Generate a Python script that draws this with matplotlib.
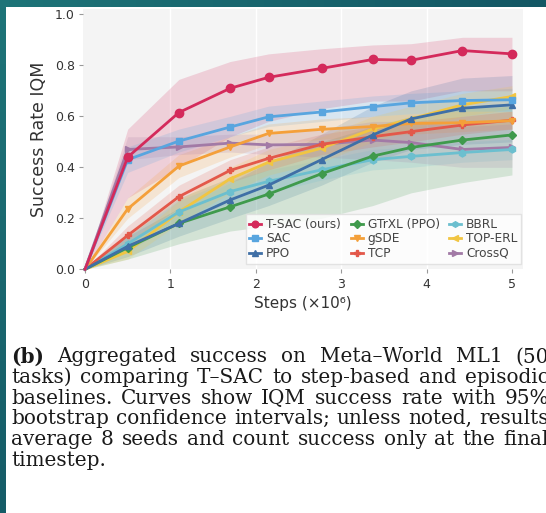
import matplotlib
matplotlib.use("Agg")
import matplotlib.pyplot as plt
import numpy as np
from matplotlib.patches import Rectangle

# ---------------- data ----------------
steps = [0, 0.5, 1.1, 1.7, 2.15, 2.77, 3.37, 3.82, 4.42, 5.0]

tsac = [0, 0.44, 0.615, 0.71, 0.753, 0.788, 0.823, 0.82, 0.858, 0.845]
tsac_lo = [0, 0.28, 0.40, 0.52, 0.58, 0.63, 0.66, 0.66, 0.70, 0.70]
tsac_hi = [0, 0.55, 0.745, 0.815, 0.845, 0.865, 0.88, 0.885, 0.91, 0.91]

sac = [0, 0.43, 0.503, 0.558, 0.598, 0.617, 0.638, 0.653, 0.662, 0.665]
sac_lo = [0, 0.38, 0.46, 0.52, 0.56, 0.58, 0.60, 0.61, 0.62, 0.62]
sac_hi = [0, 0.48, 0.55, 0.60, 0.64, 0.66, 0.68, 0.69, 0.70, 0.71]

ppo = [0, 0.09, 0.18, 0.272, 0.33, 0.43, 0.527, 0.59, 0.632, 0.645]
ppo_lo = [0, 0.05, 0.13, 0.20, 0.25, 0.33, 0.42, 0.47, 0.49, 0.50]
ppo_hi = [0, 0.13, 0.24, 0.34, 0.42, 0.53, 0.64, 0.70, 0.75, 0.76]

gtrxl = [0, 0.085, 0.18, 0.245, 0.295, 0.375, 0.444, 0.478, 0.507, 0.527]
gtrxl_lo = [0, 0.04, 0.10, 0.15, 0.17, 0.20, 0.25, 0.30, 0.34, 0.37]
gtrxl_hi = [0, 0.13, 0.28, 0.36, 0.42, 0.50, 0.56, 0.60, 0.63, 0.64]

gsde = [0, 0.237, 0.405, 0.48, 0.533, 0.549, 0.56, 0.572, 0.575, 0.583]
gsde_lo = [0, 0.20, 0.36, 0.44, 0.49, 0.51, 0.52, 0.53, 0.54, 0.55]
gsde_hi = [0, 0.28, 0.45, 0.52, 0.57, 0.59, 0.60, 0.61, 0.62, 0.62]

tcp = [0, 0.133, 0.285, 0.388, 0.435, 0.49, 0.52, 0.54, 0.566, 0.585]
tcp_lo = [0, 0.10, 0.24, 0.34, 0.39, 0.45, 0.48, 0.50, 0.53, 0.55]
tcp_hi = [0, 0.17, 0.33, 0.43, 0.48, 0.53, 0.56, 0.58, 0.60, 0.62]

bbrl = [0, 0.10, 0.225, 0.305, 0.345, 0.39, 0.43, 0.443, 0.458, 0.47]
bbrl_lo = [0, 0.07, 0.19, 0.26, 0.30, 0.35, 0.39, 0.40, 0.42, 0.43]
bbrl_hi = [0, 0.13, 0.27, 0.35, 0.39, 0.43, 0.47, 0.48, 0.50, 0.51]

toperl = [0, 0.07, 0.225, 0.355, 0.42, 0.475, 0.55, 0.59, 0.645, 0.678]
toperl_lo = [0, 0.04, 0.18, 0.30, 0.37, 0.42, 0.50, 0.55, 0.60, 0.63]
toperl_hi = [0, 0.10, 0.27, 0.40, 0.47, 0.52, 0.60, 0.64, 0.69, 0.72]

crossq = [0, 0.47, 0.48, 0.495, 0.488, 0.49, 0.507, 0.497, 0.47, 0.478]
crossq_lo = [0, 0.43, 0.45, 0.46, 0.45, 0.44, 0.43, 0.42, 0.40, 0.40]
crossq_hi = [0, 0.52, 0.52, 0.53, 0.53, 0.55, 0.58, 0.58, 0.56, 0.57]

labels = ["T-SAC (ours)", "SAC", "PPO", "GTrXL (PPO)", "gSDE", "TCP",
          "BBRL", "TOP-ERL", "CrossQ"]
x_ticks = [0, 1, 2, 3, 4, 5]
y_ticks = [0.0, 0.2, 0.4, 0.6, 0.8, 1.0]
y_tick_labels = ["0.0", "0.2", "0.4", "0.6", "0.8", "1.0"]
x_label = "Steps (×10⁶)"
y_label = "Success Rate IQM"

caption_lines = [
    "(b) Aggregated success on Meta–World ML1 (50",
    "tasks) comparing T–SAC to step-based and episodic",
    "baselines. Curves show IQM success rate with 95%",
    "bootstrap confidence intervals; unless noted, results",
    "average 8 seeds and count success only at the final",
    "timestep.",
]

# ---------------- styling ----------------
series = [
    (tsac, tsac_lo, tsac_hi, "#d42a5b", "o", 6.0),
    (sac, sac_lo, sac_hi, "#58a5df", "s", 5.0),
    (ppo, ppo_lo, ppo_hi, "#3f6fa6", "^", 5.0),
    (gtrxl, gtrxl_lo, gtrxl_hi, "#3f9a4c", "D", 4.5),
    (gsde, gsde_lo, gsde_hi, "#f4a03a", "v", 5.0),
    (tcp, tcp_lo, tcp_hi, "#e3584a", "P", 5.0),
    (bbrl, bbrl_lo, bbrl_hi, "#6cbfcf", "h", 5.0),
    (toperl, toperl_lo, toperl_hi, "#f1c542", "<", 5.0),
    (crossq, crossq_lo, crossq_hi, "#a27aa6", ">", 5.0),
]

W, H = 546, 513
DPI = 100
fig = plt.figure(figsize=(W / DPI, H / DPI), dpi=DPI)

# teal frame (gradient) + white page
bg = fig.add_axes([0, 0, 1, 1], zorder=-10)
gx = np.linspace(0, 1, 64)[None, :]
gy = np.linspace(0, 1, 64)[:, None]
t = np.clip(0.6 * gx + 0.5 * gy, 0, 1)
c0 = np.array([0x1e, 0x74, 0x78]) / 255.0
c1 = np.array([0x0d, 0x44, 0x57]) / 255.0
img = c0[None, None, :] * (1 - t[..., None]) + c1[None, None, :] * t[..., None]
bg.imshow(img, extent=[0, 1, 0, 1], aspect="auto", origin="upper")
bg.set_xlim(0, 1)
bg.set_ylim(0, 1)
bg.axis("off")
fig.patches.append(Rectangle((6 / W, 0), 1, 1 - 7 / H, transform=fig.transFigure,
                             facecolor="white", edgecolor="none", zorder=-5))

# ---------------- chart ----------------
ax = fig.add_axes([83 / W, 1 - 269.3 / H, 440 / W, 260.3 / H])
ax.set_facecolor("#f4f4f4")
for s in ax.spines.values():
    s.set_visible(False)
ax.set_xlim(-2 / 85, 438 / 85 - 2 / 85)
ax.set_ylim(0, 1.021)
for gxv in x_ticks[1:-1]:
    ax.axvline(gxv, color="white", lw=1.0, zorder=0.5)

for vals, lo, hi, col, mk, ms in series:
    ax.fill_between(steps, lo, hi, color=col, alpha=0.18, lw=0, zorder=1)

handles = []
for i, (vals, lo, hi, col, mk, ms) in enumerate(series):
    z = 10 if i == 0 else 5 - i * 0.1
    h, = ax.plot(steps, vals, color=col, lw=2.0, marker=mk, ms=ms,
                 markevery=list(range(1, len(steps))), zorder=z,
                 clip_on=False, label=labels[i])
    handles.append(h)

ax.set_xticks(x_ticks)
ax.set_xticklabels([str(v) for v in x_ticks])
ax.set_yticks(y_ticks)
ax.set_yticklabels(y_tick_labels)
ax.tick_params(axis="both", length=3, width=0.8, color="#999999",
               labelcolor="#333333", labelsize=9, pad=3)
ax.set_xlabel(x_label, fontsize=11, color="#333333", labelpad=4)
ax.set_ylabel(y_label, fontsize=12.5, color="#333333", labelpad=5)

leg = ax.legend(handles=handles, ncol=3, loc="lower right",
                bbox_to_anchor=(0.996, 0.022), borderaxespad=0.0,
                fontsize=8.7, handlelength=1.0, handletextpad=0.4,
                columnspacing=0.8, labelspacing=0.12, borderpad=0.3,
                frameon=True, fancybox=False, markerscale=0.8)
leg.get_frame().set_edgecolor("#dddddd")
leg.get_frame().set_facecolor("white")
leg.get_frame().set_alpha(0.8)
for txt in leg.get_texts():
    txt.set_color("#444444")

# ---------------- caption (justified) ----------------
cap_font = "DejaVu Serif"
cap_size = 14.4
L_px, R_px = 11.0, 549.0
base0, dy = 362.5, 20.6
fig.canvas.draw()
renderer = fig.canvas.get_renderer()
space_px = 0.3 * cap_size * DPI / 72.0
for i, line in enumerate(caption_lines):
    words = line.split(" ")
    objs = []
    for j, w in enumerate(words):
        bold = (i == 0 and j == 0)
        tobj = fig.text(0, 1 - (base0 + i * dy) / H, w, fontsize=cap_size,
                        family=cap_font, weight="bold" if bold else "normal",
                        color="#1a1a1a", va="baseline", ha="left")
        objs.append(tobj)
    widths = [o.get_window_extent(renderer).width for o in objs]
    last = (i == len(caption_lines) - 1)
    if last or len(objs) == 1:
        gap = space_px
    else:
        gap = (R_px - L_px - sum(widths)) / (len(objs) - 1)
    x = L_px
    for o, wd in zip(objs, widths):
        o.set_x(x / W)
        x += wd + gap

fig.savefig("out.png", dpi=DPI)
